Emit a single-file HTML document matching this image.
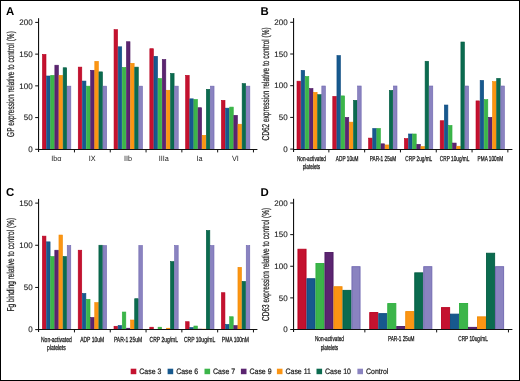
<!DOCTYPE html>
<html><head><meta charset="utf-8"><style>
html,body{margin:0;padding:0;background:#fff;}
body{width:520px;height:381px;overflow:hidden;position:relative;}
.frame{position:absolute;left:0;top:0;width:518px;height:379px;border:1px solid #000;}
svg{position:absolute;left:0;top:0;will-change:transform;}
text{font-family:"Liberation Sans",sans-serif;fill:#1a1a1a;text-rendering:geometricPrecision;}
.pl{font-weight:bold;font-size:11.4px;fill:#000;}
.yt{font-size:8px;text-anchor:end;stroke:#1a1a1a;stroke-width:0.12px;}
.xl{text-anchor:middle;stroke:#1a1a1a;stroke-width:0.28px;}
.xa{text-anchor:middle;}
.yl{text-anchor:middle;stroke:#1a1a1a;stroke-width:0.22px;}
.lg{font-size:7.9px;stroke:#1a1a1a;stroke-width:0.22px;}
</style></head><body>
<svg width="520" height="381" viewBox="0 0 520 381">
<text x="6" y="14.7" class="pl">A</text>
<rect x="42.45" y="54.43" width="3.54" height="95.07" fill="#c4122f" stroke="#b8001f" stroke-width="0.6"/>
<rect x="46.59" y="76" width="3.54" height="73.5" fill="#17598e" stroke="#0e4b80" stroke-width="0.6"/>
<rect x="50.73" y="75.36" width="3.54" height="74.14" fill="#3cb54a" stroke="#2db03d" stroke-width="0.6"/>
<rect x="54.87" y="65.21" width="3.54" height="84.29" fill="#5b2570" stroke="#4d1862" stroke-width="0.6"/>
<rect x="59.01" y="75.36" width="3.54" height="74.14" fill="#fb9514" stroke="#f28a00" stroke-width="0.6"/>
<rect x="63.15" y="67.75" width="3.54" height="81.75" fill="#0b6b4f" stroke="#035c41" stroke-width="0.6"/>
<rect x="67.29" y="86.15" width="3.54" height="63.35" fill="#8a83c0" stroke="#6f66b0" stroke-width="0.6"/>
<rect x="78.25" y="67.12" width="3.54" height="82.38" fill="#c4122f" stroke="#b8001f" stroke-width="0.6"/>
<rect x="82.39" y="81.07" width="3.54" height="68.43" fill="#17598e" stroke="#0e4b80" stroke-width="0.6"/>
<rect x="86.53" y="86.15" width="3.54" height="63.35" fill="#3cb54a" stroke="#2db03d" stroke-width="0.6"/>
<rect x="90.67" y="70.29" width="3.54" height="79.21" fill="#5b2570" stroke="#4d1862" stroke-width="0.6"/>
<rect x="94.81" y="61.4" width="3.54" height="88.1" fill="#fb9514" stroke="#f28a00" stroke-width="0.6"/>
<rect x="98.95" y="71.87" width="3.54" height="77.63" fill="#0b6b4f" stroke="#035c41" stroke-width="0.6"/>
<rect x="103.09" y="86.15" width="3.54" height="63.35" fill="#8a83c0" stroke="#6f66b0" stroke-width="0.6"/>
<rect x="114.05" y="29.68" width="3.54" height="119.82" fill="#c4122f" stroke="#b8001f" stroke-width="0.6"/>
<rect x="118.19" y="46.81" width="3.54" height="102.69" fill="#17598e" stroke="#0e4b80" stroke-width="0.6"/>
<rect x="122.33" y="67.43" width="3.54" height="82.07" fill="#3cb54a" stroke="#2db03d" stroke-width="0.6"/>
<rect x="126.47" y="41.74" width="3.54" height="107.76" fill="#5b2570" stroke="#4d1862" stroke-width="0.6"/>
<rect x="130.61" y="63.31" width="3.54" height="86.19" fill="#fb9514" stroke="#f28a00" stroke-width="0.6"/>
<rect x="134.75" y="67.12" width="3.54" height="82.38" fill="#0b6b4f" stroke="#035c41" stroke-width="0.6"/>
<rect x="138.89" y="86.15" width="3.54" height="63.35" fill="#8a83c0" stroke="#6f66b0" stroke-width="0.6"/>
<rect x="149.85" y="48.71" width="3.54" height="100.79" fill="#c4122f" stroke="#b8001f" stroke-width="0.6"/>
<rect x="153.99" y="56.33" width="3.54" height="93.17" fill="#17598e" stroke="#0e4b80" stroke-width="0.6"/>
<rect x="158.13" y="78.54" width="3.54" height="70.96" fill="#3cb54a" stroke="#2db03d" stroke-width="0.6"/>
<rect x="162.27" y="59.5" width="3.54" height="90" fill="#5b2570" stroke="#4d1862" stroke-width="0.6"/>
<rect x="166.41" y="90.27" width="3.54" height="59.23" fill="#fb9514" stroke="#f28a00" stroke-width="0.6"/>
<rect x="170.55" y="73.46" width="3.54" height="76.04" fill="#0b6b4f" stroke="#035c41" stroke-width="0.6"/>
<rect x="174.69" y="86.15" width="3.54" height="63.35" fill="#8a83c0" stroke="#6f66b0" stroke-width="0.6"/>
<rect x="185.65" y="75.36" width="3.54" height="74.14" fill="#c4122f" stroke="#b8001f" stroke-width="0.6"/>
<rect x="189.79" y="98.84" width="3.54" height="50.66" fill="#17598e" stroke="#0e4b80" stroke-width="0.6"/>
<rect x="193.93" y="99.47" width="3.54" height="50.03" fill="#3cb54a" stroke="#2db03d" stroke-width="0.6"/>
<rect x="198.07" y="107.72" width="3.54" height="41.78" fill="#5b2570" stroke="#4d1862" stroke-width="0.6"/>
<rect x="202.21" y="135.32" width="3.54" height="14.18" fill="#fb9514" stroke="#f28a00" stroke-width="0.6"/>
<rect x="206.35" y="89.32" width="3.54" height="60.18" fill="#0b6b4f" stroke="#035c41" stroke-width="0.6"/>
<rect x="210.49" y="86.15" width="3.54" height="63.35" fill="#8a83c0" stroke="#6f66b0" stroke-width="0.6"/>
<rect x="221.45" y="100.36" width="3.54" height="49.14" fill="#c4122f" stroke="#b8001f" stroke-width="0.6"/>
<rect x="225.59" y="108.17" width="3.54" height="41.33" fill="#17598e" stroke="#0e4b80" stroke-width="0.6"/>
<rect x="229.73" y="107.09" width="3.54" height="42.41" fill="#3cb54a" stroke="#2db03d" stroke-width="0.6"/>
<rect x="233.87" y="115.34" width="3.54" height="34.16" fill="#5b2570" stroke="#4d1862" stroke-width="0.6"/>
<rect x="238.01" y="124.22" width="3.54" height="25.28" fill="#fb9514" stroke="#f28a00" stroke-width="0.6"/>
<rect x="242.15" y="83.61" width="3.54" height="65.89" fill="#0b6b4f" stroke="#035c41" stroke-width="0.6"/>
<rect x="246.29" y="86.15" width="3.54" height="63.35" fill="#8a83c0" stroke="#6f66b0" stroke-width="0.6"/>
<rect x="38" y="18.2" width="1.1" height="133.8" fill="#111"/>
<rect x="38" y="149" width="219.4" height="1" fill="#111"/>
<rect x="35.2" y="148.8" width="2.8" height="1" fill="#111"/>
<text x="32.7" y="152.05" class="yt">0</text>
<rect x="35.2" y="117.08" width="2.8" height="1" fill="#111"/>
<text x="32.7" y="120.33" class="yt">50</text>
<rect x="35.2" y="85.35" width="2.8" height="1" fill="#111"/>
<text x="32.7" y="88.6" class="yt">100</text>
<rect x="35.2" y="53.63" width="2.8" height="1" fill="#111"/>
<text x="32.7" y="56.88" class="yt">150</text>
<rect x="35.2" y="21.9" width="2.8" height="1" fill="#111"/>
<text x="32.7" y="25.15" class="yt">200</text>
<rect x="73.95" y="149" width="1" height="3.4" fill="#111"/>
<rect x="109.75" y="149" width="1" height="3.4" fill="#111"/>
<rect x="145.55" y="149" width="1" height="3.4" fill="#111"/>
<rect x="181.35" y="149" width="1" height="3.4" fill="#111"/>
<rect x="217.15" y="149" width="1" height="3.4" fill="#111"/>
<rect x="252.95" y="149" width="1" height="3.4" fill="#111"/>
<text class="xa" style="font-size:7.5px" transform="translate(56.4,161.2) scale(0.97,1)">Ibα</text>
<text class="xa" style="font-size:7.5px" transform="translate(92.2,161.2) scale(0.97,1)">IX</text>
<text class="xa" style="font-size:7.5px" transform="translate(128,161.2) scale(0.97,1)">IIb</text>
<text class="xa" style="font-size:7.5px" transform="translate(163.8,161.2) scale(0.97,1)">IIIa</text>
<text class="xa" style="font-size:7.5px" transform="translate(199.6,161.2) scale(0.97,1)">Ia</text>
<text class="xa" style="font-size:7.5px" transform="translate(235.4,161.2) scale(0.97,1)">VI</text>
<text class="yl" style="font-size:10.0px" transform="translate(14,84.05) rotate(-90) scale(0.65,1)">GP expression relative to control (%)</text>
<text x="260.6" y="14.7" class="pl">B</text>
<rect x="297" y="81.18" width="3.54" height="68.32" fill="#c4122f" stroke="#b8001f" stroke-width="0.6"/>
<rect x="301.14" y="70.34" width="3.54" height="79.16" fill="#17598e" stroke="#0e4b80" stroke-width="0.6"/>
<rect x="305.28" y="76.49" width="3.54" height="73.01" fill="#3cb54a" stroke="#2db03d" stroke-width="0.6"/>
<rect x="309.42" y="88.54" width="3.54" height="60.96" fill="#5b2570" stroke="#4d1862" stroke-width="0.6"/>
<rect x="313.56" y="92.34" width="3.54" height="57.16" fill="#fb9514" stroke="#f28a00" stroke-width="0.6"/>
<rect x="317.7" y="94.69" width="3.54" height="54.81" fill="#0b6b4f" stroke="#035c41" stroke-width="0.6"/>
<rect x="321.84" y="86" width="3.54" height="63.5" fill="#8a83c0" stroke="#6f66b0" stroke-width="0.6"/>
<rect x="332.8" y="96.4" width="3.54" height="53.1" fill="#c4122f" stroke="#b8001f" stroke-width="0.6"/>
<rect x="336.94" y="55.57" width="3.54" height="93.93" fill="#17598e" stroke="#0e4b80" stroke-width="0.6"/>
<rect x="341.08" y="95.89" width="3.54" height="53.61" fill="#3cb54a" stroke="#2db03d" stroke-width="0.6"/>
<rect x="345.22" y="117.45" width="3.54" height="32.05" fill="#5b2570" stroke="#4d1862" stroke-width="0.6"/>
<rect x="349.36" y="122.14" width="3.54" height="27.36" fill="#fb9514" stroke="#f28a00" stroke-width="0.6"/>
<rect x="353.5" y="100.33" width="3.54" height="49.17" fill="#0b6b4f" stroke="#035c41" stroke-width="0.6"/>
<rect x="357.64" y="86" width="3.54" height="63.5" fill="#8a83c0" stroke="#6f66b0" stroke-width="0.6"/>
<rect x="368.6" y="138.11" width="3.54" height="11.39" fill="#c4122f" stroke="#b8001f" stroke-width="0.6"/>
<rect x="372.74" y="128.48" width="3.54" height="21.02" fill="#17598e" stroke="#0e4b80" stroke-width="0.6"/>
<rect x="376.88" y="128.48" width="3.54" height="21.02" fill="#3cb54a" stroke="#2db03d" stroke-width="0.6"/>
<rect x="381.02" y="143.82" width="3.54" height="5.68" fill="#5b2570" stroke="#4d1862" stroke-width="0.6"/>
<rect x="385.16" y="144.96" width="3.54" height="4.54" fill="#fb9514" stroke="#f28a00" stroke-width="0.6"/>
<rect x="389.3" y="90.44" width="3.54" height="59.06" fill="#0b6b4f" stroke="#035c41" stroke-width="0.6"/>
<rect x="393.44" y="86" width="3.54" height="63.5" fill="#8a83c0" stroke="#6f66b0" stroke-width="0.6"/>
<rect x="404.4" y="138.62" width="3.54" height="10.88" fill="#c4122f" stroke="#b8001f" stroke-width="0.6"/>
<rect x="408.54" y="133.99" width="3.54" height="15.51" fill="#17598e" stroke="#0e4b80" stroke-width="0.6"/>
<rect x="412.68" y="133.99" width="3.54" height="15.51" fill="#3cb54a" stroke="#2db03d" stroke-width="0.6"/>
<rect x="416.82" y="144.33" width="3.54" height="5.17" fill="#5b2570" stroke="#4d1862" stroke-width="0.6"/>
<rect x="420.96" y="146.61" width="3.54" height="2.89" fill="#fb9514" stroke="#f28a00" stroke-width="0.6"/>
<rect x="425.1" y="61.27" width="3.54" height="88.23" fill="#0b6b4f" stroke="#035c41" stroke-width="0.6"/>
<rect x="429.24" y="86" width="3.54" height="63.5" fill="#8a83c0" stroke="#6f66b0" stroke-width="0.6"/>
<rect x="440.2" y="120.74" width="3.54" height="28.76" fill="#c4122f" stroke="#b8001f" stroke-width="0.6"/>
<rect x="444.34" y="105.02" width="3.54" height="44.48" fill="#17598e" stroke="#0e4b80" stroke-width="0.6"/>
<rect x="448.48" y="125.43" width="3.54" height="24.07" fill="#3cb54a" stroke="#2db03d" stroke-width="0.6"/>
<rect x="452.62" y="143.06" width="3.54" height="6.44" fill="#5b2570" stroke="#4d1862" stroke-width="0.6"/>
<rect x="456.76" y="146.23" width="3.54" height="3.27" fill="#fb9514" stroke="#f28a00" stroke-width="0.6"/>
<rect x="460.9" y="42" width="3.54" height="107.5" fill="#0b6b4f" stroke="#035c41" stroke-width="0.6"/>
<rect x="465.04" y="86" width="3.54" height="63.5" fill="#8a83c0" stroke="#6f66b0" stroke-width="0.6"/>
<rect x="476" y="100.9" width="3.54" height="48.6" fill="#c4122f" stroke="#b8001f" stroke-width="0.6"/>
<rect x="480.14" y="80.42" width="3.54" height="69.08" fill="#17598e" stroke="#0e4b80" stroke-width="0.6"/>
<rect x="484.28" y="99.63" width="3.54" height="49.87" fill="#3cb54a" stroke="#2db03d" stroke-width="0.6"/>
<rect x="488.42" y="117.32" width="3.54" height="32.18" fill="#5b2570" stroke="#4d1862" stroke-width="0.6"/>
<rect x="492.56" y="81.63" width="3.54" height="67.87" fill="#fb9514" stroke="#f28a00" stroke-width="0.6"/>
<rect x="496.7" y="78.39" width="3.54" height="71.11" fill="#0b6b4f" stroke="#035c41" stroke-width="0.6"/>
<rect x="500.84" y="86" width="3.54" height="63.5" fill="#8a83c0" stroke="#6f66b0" stroke-width="0.6"/>
<rect x="293" y="18.1" width="1.1" height="133.9" fill="#111"/>
<rect x="293" y="149" width="219.4" height="1" fill="#111"/>
<rect x="290.2" y="148.6" width="2.8" height="1" fill="#111"/>
<text x="287.7" y="151.85" class="yt">0</text>
<rect x="290.2" y="116.9" width="2.8" height="1" fill="#111"/>
<text x="287.7" y="120.15" class="yt">50</text>
<rect x="290.2" y="85.2" width="2.8" height="1" fill="#111"/>
<text x="287.7" y="88.45" class="yt">100</text>
<rect x="290.2" y="53.5" width="2.8" height="1" fill="#111"/>
<text x="287.7" y="56.75" class="yt">150</text>
<rect x="290.2" y="21.8" width="2.8" height="1" fill="#111"/>
<text x="287.7" y="25.05" class="yt">200</text>
<rect x="328.35" y="149" width="1" height="3.4" fill="#111"/>
<rect x="364.15" y="149" width="1" height="3.4" fill="#111"/>
<rect x="399.95" y="149" width="1" height="3.4" fill="#111"/>
<rect x="435.75" y="149" width="1" height="3.4" fill="#111"/>
<rect x="471.55" y="149" width="1" height="3.4" fill="#111"/>
<rect x="507.35" y="149" width="1" height="3.4" fill="#111"/>
<text class="xl" style="font-size:7.2px" transform="translate(311.4,160.6) scale(0.655,1)">Non-activated</text>
<text class="xl" style="font-size:7.2px" transform="translate(311.4,168.6) scale(0.655,1)">platelets</text>
<text class="xl" style="font-size:7.2px" transform="translate(347.2,160.6) scale(0.655,1)">ADP 10uM</text>
<text class="xl" style="font-size:7.2px" transform="translate(383,160.6) scale(0.655,1)">PAR-1 25uM</text>
<text class="xl" style="font-size:7.2px" transform="translate(418.8,160.6) scale(0.655,1)">CRP 2ug/mL</text>
<text class="xl" style="font-size:7.2px" transform="translate(454.6,160.6) scale(0.655,1)">CRP 10ug/mL</text>
<text class="xl" style="font-size:7.2px" transform="translate(490.4,160.6) scale(0.655,1)">PMA 100nM</text>
<text class="yl" style="font-size:10.0px" transform="translate(269,83.9) rotate(-90) scale(0.65,1)">CD62 expression relative to control (%)</text>
<text x="6" y="195.7" class="pl">C</text>
<rect x="42.4" y="236.13" width="3.54" height="93.37" fill="#c4122f" stroke="#b8001f" stroke-width="0.6"/>
<rect x="46.54" y="241.86" width="3.54" height="87.64" fill="#17598e" stroke="#0e4b80" stroke-width="0.6"/>
<rect x="50.68" y="256.53" width="3.54" height="72.97" fill="#3cb54a" stroke="#2db03d" stroke-width="0.6"/>
<rect x="54.82" y="250.21" width="3.54" height="79.29" fill="#5b2570" stroke="#4d1862" stroke-width="0.6"/>
<rect x="58.96" y="235.03" width="3.54" height="94.47" fill="#fb9514" stroke="#f28a00" stroke-width="0.6"/>
<rect x="63.1" y="256.53" width="3.54" height="72.97" fill="#0b6b4f" stroke="#035c41" stroke-width="0.6"/>
<rect x="67.24" y="245.57" width="3.54" height="83.93" fill="#8a83c0" stroke="#6f66b0" stroke-width="0.6"/>
<rect x="78.2" y="250.21" width="3.54" height="79.29" fill="#c4122f" stroke="#b8001f" stroke-width="0.6"/>
<rect x="82.34" y="293.47" width="3.54" height="36.03" fill="#17598e" stroke="#0e4b80" stroke-width="0.6"/>
<rect x="86.48" y="299.29" width="3.54" height="30.21" fill="#3cb54a" stroke="#2db03d" stroke-width="0.6"/>
<rect x="90.62" y="317.5" width="3.54" height="12" fill="#5b2570" stroke="#4d1862" stroke-width="0.6"/>
<rect x="94.76" y="302.58" width="3.54" height="26.92" fill="#fb9514" stroke="#f28a00" stroke-width="0.6"/>
<rect x="98.9" y="245.23" width="3.54" height="84.27" fill="#0b6b4f" stroke="#035c41" stroke-width="0.6"/>
<rect x="103.04" y="245.57" width="3.54" height="83.93" fill="#8a83c0" stroke="#6f66b0" stroke-width="0.6"/>
<rect x="114" y="326.27" width="3.54" height="3.23" fill="#c4122f" stroke="#b8001f" stroke-width="0.6"/>
<rect x="118.14" y="325.51" width="3.54" height="3.99" fill="#17598e" stroke="#0e4b80" stroke-width="0.6"/>
<rect x="122.28" y="312.02" width="3.54" height="17.48" fill="#3cb54a" stroke="#2db03d" stroke-width="0.6"/>
<rect x="126.12" y="327.91" width="4.14" height="1.09" fill="#5b2570"/>
<rect x="130.56" y="320.03" width="3.54" height="9.47" fill="#fb9514" stroke="#f28a00" stroke-width="0.6"/>
<rect x="134.7" y="298.7" width="3.54" height="30.8" fill="#0b6b4f" stroke="#035c41" stroke-width="0.6"/>
<rect x="138.84" y="245.57" width="3.54" height="83.93" fill="#8a83c0" stroke="#6f66b0" stroke-width="0.6"/>
<rect x="149.8" y="327.2" width="3.54" height="2.3" fill="#c4122f" stroke="#b8001f" stroke-width="0.6"/>
<rect x="158.08" y="327.2" width="3.54" height="2.3" fill="#3cb54a" stroke="#2db03d" stroke-width="0.6"/>
<rect x="166.06" y="327.91" width="4.14" height="1.09" fill="#fb9514"/>
<rect x="170.5" y="261.59" width="3.54" height="67.91" fill="#0b6b4f" stroke="#035c41" stroke-width="0.6"/>
<rect x="174.64" y="245.57" width="3.54" height="83.93" fill="#8a83c0" stroke="#6f66b0" stroke-width="0.6"/>
<rect x="185.6" y="321.72" width="3.54" height="7.78" fill="#c4122f" stroke="#b8001f" stroke-width="0.6"/>
<rect x="189.74" y="327.54" width="3.54" height="1.96" fill="#17598e" stroke="#0e4b80" stroke-width="0.6"/>
<rect x="193.88" y="326.02" width="3.54" height="3.48" fill="#3cb54a" stroke="#2db03d" stroke-width="0.6"/>
<rect x="197.72" y="328.76" width="4.14" height="0.24" fill="#5b2570"/>
<rect x="201.86" y="328.76" width="4.14" height="0.24" fill="#fb9514"/>
<rect x="206.3" y="230.47" width="3.54" height="99.03" fill="#0b6b4f" stroke="#035c41" stroke-width="0.6"/>
<rect x="210.44" y="245.57" width="3.54" height="83.93" fill="#8a83c0" stroke="#6f66b0" stroke-width="0.6"/>
<rect x="221.4" y="292.71" width="3.54" height="36.79" fill="#c4122f" stroke="#b8001f" stroke-width="0.6"/>
<rect x="225.54" y="324.42" width="3.54" height="5.08" fill="#17598e" stroke="#0e4b80" stroke-width="0.6"/>
<rect x="229.68" y="316.74" width="3.54" height="12.76" fill="#3cb54a" stroke="#2db03d" stroke-width="0.6"/>
<rect x="233.82" y="325.6" width="3.54" height="3.9" fill="#5b2570" stroke="#4d1862" stroke-width="0.6"/>
<rect x="237.96" y="267.33" width="3.54" height="62.17" fill="#fb9514" stroke="#f28a00" stroke-width="0.6"/>
<rect x="242.1" y="281.41" width="3.54" height="48.09" fill="#0b6b4f" stroke="#035c41" stroke-width="0.6"/>
<rect x="246.24" y="245.57" width="3.54" height="83.93" fill="#8a83c0" stroke="#6f66b0" stroke-width="0.6"/>
<rect x="38" y="198.91" width="1.1" height="133.09" fill="#111"/>
<rect x="38" y="329" width="219.4" height="1" fill="#111"/>
<rect x="35.2" y="329.1" width="2.8" height="1" fill="#111"/>
<text x="32.7" y="332.35" class="yt">0</text>
<rect x="35.2" y="286.94" width="2.8" height="1" fill="#111"/>
<text x="32.7" y="290.19" class="yt">50</text>
<rect x="35.2" y="244.77" width="2.8" height="1" fill="#111"/>
<text x="32.7" y="248.02" class="yt">100</text>
<rect x="35.2" y="202.61" width="2.8" height="1" fill="#111"/>
<text x="32.7" y="205.86" class="yt">150</text>
<rect x="73.95" y="329" width="1" height="3.4" fill="#111"/>
<rect x="109.75" y="329" width="1" height="3.4" fill="#111"/>
<rect x="145.55" y="329" width="1" height="3.4" fill="#111"/>
<rect x="181.35" y="329" width="1" height="3.4" fill="#111"/>
<rect x="217.15" y="329" width="1" height="3.4" fill="#111"/>
<rect x="252.95" y="329" width="1" height="3.4" fill="#111"/>
<text class="xl" style="font-size:7.4px" transform="translate(56.4,341.6) scale(0.675,1)">Non-activated</text>
<text class="xl" style="font-size:7.4px" transform="translate(56.4,349.9) scale(0.675,1)">platelets</text>
<text class="xl" style="font-size:7.4px" transform="translate(92.2,341.6) scale(0.675,1)">ADP 10uM</text>
<text class="xl" style="font-size:7.4px" transform="translate(128,341.6) scale(0.675,1)">PAR-1 25uM</text>
<text class="xl" style="font-size:7.4px" transform="translate(163.8,341.6) scale(0.675,1)">CRP 2ug/mL</text>
<text class="xl" style="font-size:7.4px" transform="translate(199.6,341.6) scale(0.675,1)">CRP 10ug/mL</text>
<text class="xl" style="font-size:7.4px" transform="translate(235.4,341.6) scale(0.675,1)">PMA 100nM</text>
<text class="yl" style="font-size:10.0px" transform="translate(14,264.7) rotate(-90) scale(0.65,1)">Fg binding relative to control (%)</text>
<text x="260.6" y="195.7" class="pl">D</text>
<rect x="297.95" y="249.24" width="8.1" height="80.26" fill="#c4122f" stroke="#b8001f" stroke-width="0.9"/>
<rect x="306.95" y="278.72" width="8.1" height="50.78" fill="#17598e" stroke="#0e4b80" stroke-width="0.9"/>
<rect x="315.95" y="263.54" width="8.1" height="65.96" fill="#3cb54a" stroke="#2db03d" stroke-width="0.9"/>
<rect x="324.95" y="252.53" width="8.1" height="76.97" fill="#5b2570" stroke="#4d1862" stroke-width="0.9"/>
<rect x="333.95" y="286.75" width="8.1" height="42.75" fill="#fb9514" stroke="#f28a00" stroke-width="0.9"/>
<rect x="342.95" y="290.36" width="8.1" height="39.14" fill="#0b6b4f" stroke="#035c41" stroke-width="0.9"/>
<rect x="351.95" y="266.7" width="8.1" height="62.8" fill="#8a83c0" stroke="#6f66b0" stroke-width="0.9"/>
<rect x="369.75" y="312.56" width="8.1" height="16.94" fill="#c4122f" stroke="#b8001f" stroke-width="0.9"/>
<rect x="378.75" y="313.63" width="8.1" height="15.87" fill="#17598e" stroke="#0e4b80" stroke-width="0.9"/>
<rect x="387.75" y="303.57" width="8.1" height="25.93" fill="#3cb54a" stroke="#2db03d" stroke-width="0.9"/>
<rect x="396.75" y="326.47" width="8.1" height="3.03" fill="#5b2570" stroke="#4d1862" stroke-width="0.9"/>
<rect x="405.75" y="311.61" width="8.1" height="17.89" fill="#fb9514" stroke="#f28a00" stroke-width="0.9"/>
<rect x="414.75" y="272.84" width="8.1" height="56.66" fill="#0b6b4f" stroke="#035c41" stroke-width="0.9"/>
<rect x="423.75" y="266.7" width="8.1" height="62.8" fill="#8a83c0" stroke="#6f66b0" stroke-width="0.9"/>
<rect x="441.55" y="307.62" width="8.1" height="21.88" fill="#c4122f" stroke="#b8001f" stroke-width="0.9"/>
<rect x="450.55" y="314.14" width="8.1" height="15.36" fill="#17598e" stroke="#0e4b80" stroke-width="0.9"/>
<rect x="459.55" y="303.45" width="8.1" height="26.05" fill="#3cb54a" stroke="#2db03d" stroke-width="0.9"/>
<rect x="468.55" y="327.36" width="8.1" height="2.14" fill="#5b2570" stroke="#4d1862" stroke-width="0.9"/>
<rect x="477.55" y="316.86" width="8.1" height="12.64" fill="#fb9514" stroke="#f28a00" stroke-width="0.9"/>
<rect x="486.55" y="253.23" width="8.1" height="76.27" fill="#0b6b4f" stroke="#035c41" stroke-width="0.9"/>
<rect x="495.55" y="266.7" width="8.1" height="62.8" fill="#8a83c0" stroke="#6f66b0" stroke-width="0.9"/>
<rect x="293" y="198.8" width="1.1" height="133.2" fill="#111"/>
<rect x="293" y="329" width="219.4" height="1" fill="#111"/>
<rect x="290.2" y="329" width="2.8" height="1" fill="#111"/>
<text x="287.7" y="332.25" class="yt">0</text>
<rect x="290.2" y="297.38" width="2.8" height="1" fill="#111"/>
<text x="287.7" y="300.62" class="yt">50</text>
<rect x="290.2" y="265.75" width="2.8" height="1" fill="#111"/>
<text x="287.7" y="269" class="yt">100</text>
<rect x="290.2" y="234.12" width="2.8" height="1" fill="#111"/>
<text x="287.7" y="237.38" class="yt">150</text>
<rect x="290.2" y="202.5" width="2.8" height="1" fill="#111"/>
<text x="287.7" y="205.75" class="yt">200</text>
<rect x="364.35" y="329" width="1" height="3.4" fill="#111"/>
<rect x="436.15" y="329" width="1" height="3.4" fill="#111"/>
<rect x="507.95" y="329" width="1" height="3.4" fill="#111"/>
<text class="xl" style="font-size:7.2px" transform="translate(329.4,341.2) scale(0.655,1)">Non-activated</text>
<text class="xl" style="font-size:7.2px" transform="translate(329.4,349.5) scale(0.655,1)">platelets</text>
<text class="xl" style="font-size:7.2px" transform="translate(401.2,341.2) scale(0.655,1)">PAR-1 25uM</text>
<text class="xl" style="font-size:7.2px" transform="translate(473,341.2) scale(0.655,1)">CRP 10ug/mL</text>
<text class="yl" style="font-size:10.0px" transform="translate(269.4,264.4) rotate(-90) scale(0.65,1)">CD63 expression relative to control (%)</text>
<rect x="130.7" y="368.7" width="5.6" height="5.5" fill="#c4122f"/>
<text class="lg" transform="translate(139.3,374.1) scale(0.88,1)">Case 3</text>
<rect x="167.6" y="368.7" width="5.6" height="5.5" fill="#17598e"/>
<text class="lg" transform="translate(176.2,374.1) scale(0.88,1)">Case 6</text>
<rect x="204.5" y="368.7" width="5.6" height="5.5" fill="#3cb54a"/>
<text class="lg" transform="translate(213.1,374.1) scale(0.88,1)">Case 7</text>
<rect x="240.9" y="368.7" width="5.6" height="5.5" fill="#5b2570"/>
<text class="lg" transform="translate(249.5,374.1) scale(0.88,1)">Case 9</text>
<rect x="276.9" y="368.7" width="5.6" height="5.5" fill="#fb9514"/>
<text class="lg" transform="translate(285.5,374.1) scale(0.88,1)">Case 11</text>
<rect x="316.5" y="368.7" width="5.6" height="5.5" fill="#0b6b4f"/>
<text class="lg" transform="translate(325.1,374.1) scale(0.88,1)">Case 10</text>
<rect x="357.4" y="368.7" width="5.6" height="5.5" fill="#8a83c0"/>
<text class="lg" transform="translate(366,374.1) scale(0.88,1)">Control</text>
</svg>
<div class="frame"></div>
</body></html>
